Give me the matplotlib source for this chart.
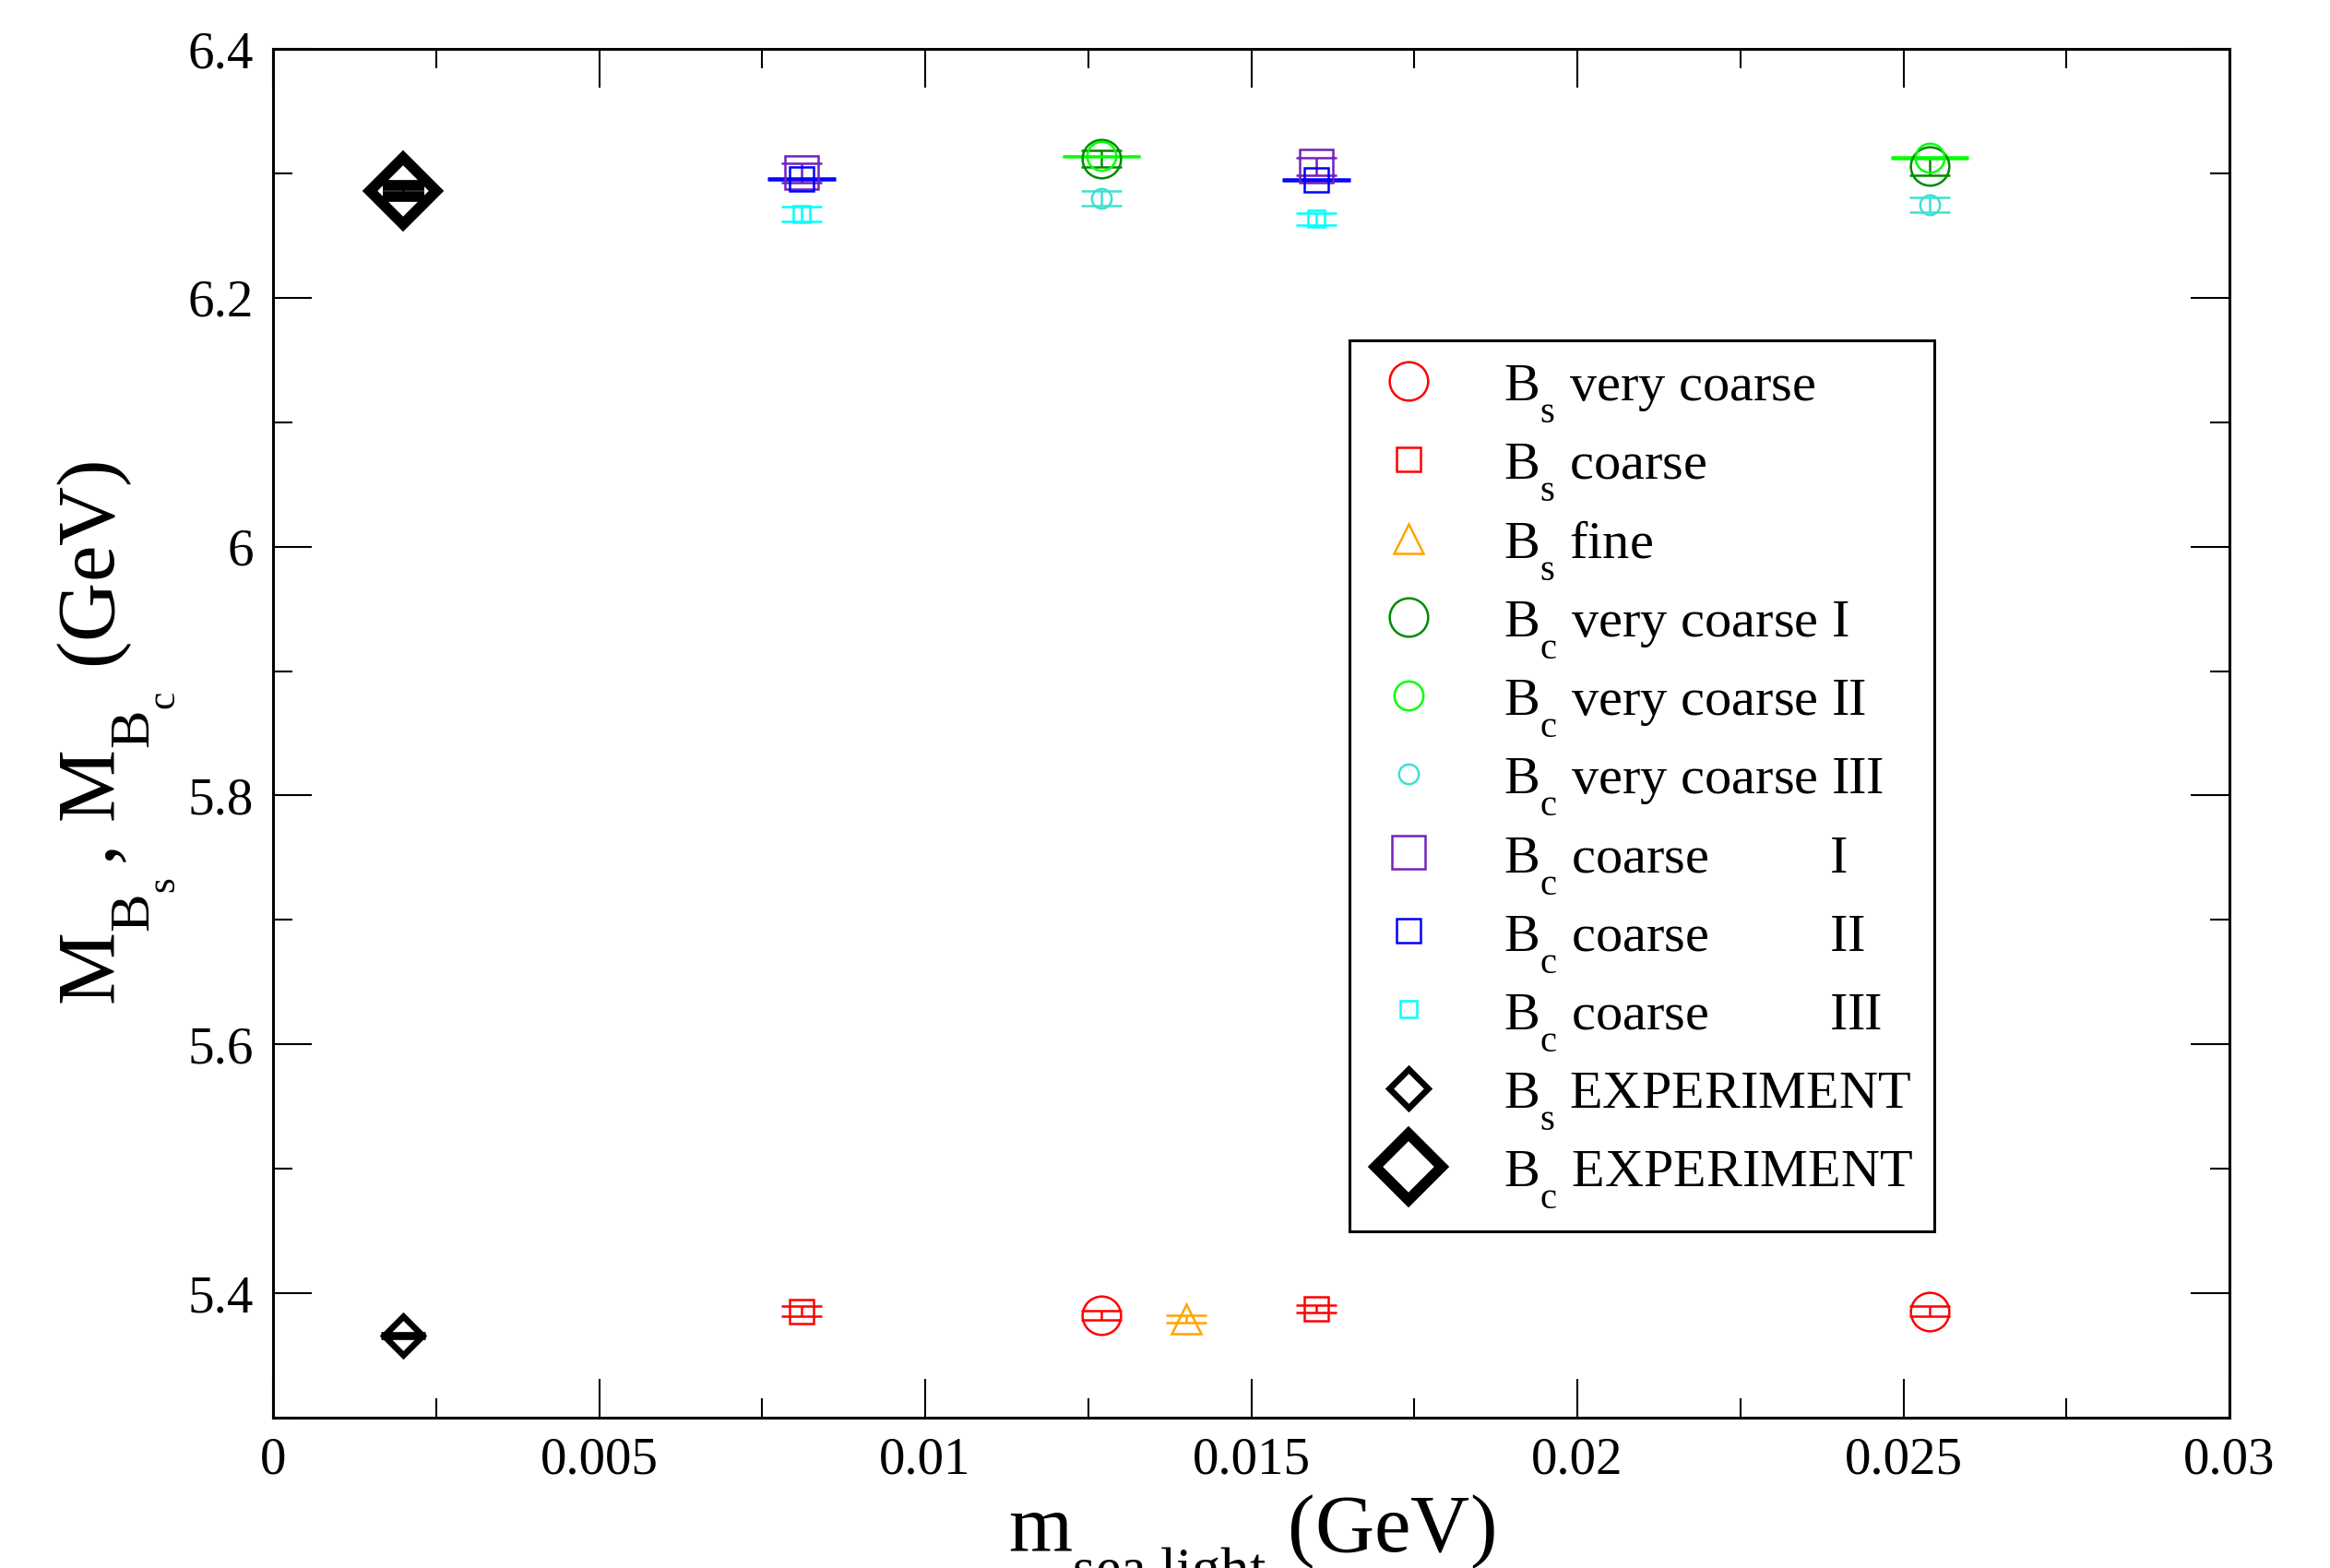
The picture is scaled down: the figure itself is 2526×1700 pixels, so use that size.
import matplotlib
matplotlib.use("Agg")
import matplotlib.pyplot as plt
import matplotlib._mathtext as _mt
from matplotlib.lines import Line2D
from matplotlib.ticker import MultipleLocator

plt.rcParams['font.family'] = ['Liberation Serif', 'DejaVu Serif']
plt.rcParams['mathtext.fontset'] = 'custom'
plt.rcParams['mathtext.rm'] = 'Liberation Serif'
plt.rcParams['mathtext.it'] = 'Liberation Serif:italic'
plt.rcParams['mathtext.bf'] = 'Liberation Serif:bold'
# subscripts hang below the baseline, as in the original (xmgrace style)
_mt.FontConstantsBase.sub1 = 0.95

# ---------------- data ----------------
x_bs_vc = [0.0127, 0.0254]
y_bs_vc = [5.3823, 5.3855]
e_bs_vc = [0.004, 0.004]

x_bs_c = [0.0081, 0.0160]
y_bs_c = [5.3855, 5.3875]
e_bs_c = [0.004, 0.003]

x_bs_f = [0.0140]
y_bs_f = [5.3790]
e_bs_f = [0.003]

x_bc_vc1 = [0.0127, 0.0254]
y_bc_vc1 = [6.3118, 6.3057]
e_bc_vc1 = [0.007, 0.007]

x_bc_vc2 = [0.0127, 0.0254]
y_bc_vc2 = [6.3137, 6.3125]
e_bc_vc2 = [0.0005, 0.0005]

x_bc_vc3 = [0.0127, 0.0254]
y_bc_vc3 = [6.2799, 6.2749]
e_bc_vc3 = [0.006, 0.006]

x_bc_c1 = [0.0081, 0.0160]
y_bc_c1 = [6.3004, 6.3058]
e_bc_c1 = [0.008, 0.007]

x_bc_c2 = [0.0081, 0.0160]
y_bc_c2 = [6.2954, 6.2947]
e_bc_c2 = [0.0005, 0.0005]

x_bc_c3 = [0.0081, 0.0160]
y_bc_c3 = [6.2675, 6.2633]
e_bc_c3 = [0.006, 0.005]

x_bs_exp = [0.002]
y_bs_exp = [5.3661]
e_bs_exp = [0.0006]

x_bc_exp = [0.002]
y_bc_exp = [6.286]
e_bc_exp = [0.0045]

labels = [
    r'B$_\mathrm{s}$ very coarse',
    r'B$_\mathrm{s}$ coarse',
    r'B$_\mathrm{s}$ fine',
    r'B$_\mathrm{c}$ very coarse I',
    r'B$_\mathrm{c}$ very coarse II',
    r'B$_\mathrm{c}$ very coarse III',
    r'B$_\mathrm{c}$ coarse         I',
    r'B$_\mathrm{c}$ coarse         II',
    r'B$_\mathrm{c}$ coarse         III',
    r'B$_\mathrm{s}$ EXPERIMENT',
    r'B$_\mathrm{c}$ EXPERIMENT',
]

# ---------------- styles ----------------
series = [
    (x_bs_vc, y_bs_vc, e_bs_vc, 'o', 15.0, '#ff0000', 0.9, 8.0, 0.9),
    (x_bs_c, y_bs_c, e_bs_c, 's', 9.5, '#ff0000', 0.9, 8.0, 0.9),
    (x_bs_f, y_bs_f, e_bs_f, '^', 11.5, '#ffa500', 0.9, 8.0, 0.9),
    (x_bc_vc1, y_bc_vc1, e_bc_vc1, 'o', 15.0, '#008b00', 0.9, 8.0, 0.9),
    (x_bc_vc2, y_bc_vc2, e_bc_vc2, 'o', 11.3, '#00ff00', 0.9, 15.0, 1.6),
    (x_bc_vc3, y_bc_vc3, e_bc_vc3, 'o', 7.7, '#40e0d0', 0.9, 8.0, 0.9),
    (x_bc_c1, y_bc_c1, e_bc_c1, 's', 12.8, '#7221bc', 0.9, 8.0, 0.9),
    (x_bc_c2, y_bc_c2, e_bc_c2, 's', 9.5, '#0000ff', 0.9, 13.3, 1.6),
    (x_bc_c3, y_bc_c3, e_bc_c3, 's', 6.3, '#00ffff', 0.9, 8.0, 0.9),
    (x_bs_exp, y_bs_exp, e_bs_exp, 'D', 10.8, '#000000', 2.4, 8.5, 0.9),
    (x_bc_exp, y_bc_exp, e_bc_exp, 'D', 18.1, '#000000', 4.2, 8.1, 0.9),
]

W, H = 2526, 1700
DPI = 200
fig = plt.figure(figsize=(W / DPI, H / DPI), dpi=DPI)
L, R, T, B = 296, 2417, 53, 1537
ax = fig.add_axes([L / W, 1 - B / H, (R - L) / W, (B - T) / H])

handles = []
for (x, y, e, m, ms, c, mew, cap, capth) in series:
    ax.errorbar(x, y, yerr=e, fmt=m, ms=ms, mfc='none', mec=c, mew=mew,
                ecolor=c, elinewidth=0.9, capsize=cap, capthick=capth,
                clip_on=False, zorder=3)
    handles.append(Line2D([], [], ls='none', marker=m, ms=ms, mfc='none',
                          mec=c, mew=mew))

ax.set_xlim(0, 0.03)
ax.set_ylim(5.3, 6.4)
ax.xaxis.set_minor_locator(MultipleLocator(0.0025))
ax.yaxis.set_minor_locator(MultipleLocator(0.1))
ax.set_xticks([0, 0.005, 0.01, 0.015, 0.02, 0.025, 0.03])
ax.set_xticklabels(['0', '0.005', '0.01', '0.015', '0.02', '0.025', '0.03'])
ax.set_yticks([5.4, 5.6, 5.8, 6.0, 6.2, 6.4])
ax.set_yticklabels(['5.4', '5.6', '5.8', '6', '6.2', '6.4'])

ax.tick_params(which='both', direction='in', top=True, right=True, width=0.75,
               labelsize=20.5)
ax.tick_params(which='major', length=15)
ax.tick_params(which='minor', length=7.5)
ax.tick_params(axis='x', which='major', pad=7.5)
ax.tick_params(axis='y', which='major', pad=7.5)
for s in ax.spines.values():
    s.set_linewidth(1.1)

ax.set_xlabel(r'$\mathrm{m_{sea\ light}}$ (GeV)', fontsize=32, va='baseline')
ax.xaxis.set_label_coords(0.5, -(1682 - B) / (B - T))
ax.set_ylabel(r'$\mathrm{M_{B_s}\,,\,M_{B_c}}$ (GeV)', fontsize=32,
              va='baseline', ha='center', rotation_mode='anchor')
ax.yaxis.set_label_coords(-(L - 124) / (R - L), 0.5)

leg = ax.legend(handles, labels, loc='upper left',
                bbox_to_anchor=(1463 / W, 1 - 369 / H),
                bbox_transform=fig.transFigure, borderaxespad=0,
                fontsize=21, frameon=True, fancybox=False, shadow=False,
                framealpha=1, edgecolor='black', borderpad=0.4,
                labelspacing=0.3, handlelength=1.4, handletextpad=1.06,
                numpoints=1)
leg.get_frame().set_linewidth(1.1)

fig.savefig('out.png', dpi=DPI)
